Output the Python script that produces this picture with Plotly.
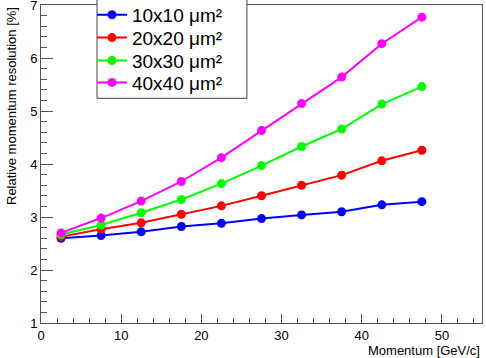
import plotly.graph_objects as go

momentum = [2.5, 7.5, 12.5, 17.5, 22.5, 27.5, 32.5, 37.5, 42.5, 47.5]
res_10 = [2.60, 2.65, 2.72, 2.82, 2.88, 2.97, 3.04, 3.10, 3.23, 3.29]
res_20 = [2.63, 2.77, 2.89, 3.05, 3.21, 3.40, 3.60, 3.79, 4.06, 4.26]
res_30 = [2.67, 2.85, 3.08, 3.33, 3.63, 3.97, 4.33, 4.66, 5.13, 5.46]
res_40 = [2.70, 2.98, 3.30, 3.67, 4.12, 4.63, 5.14, 5.64, 6.27, 6.77]
labels = ["10x10 μm²", "20x20 μm²", "30x30 μm²", "40x40 μm²"]
colors = ["#0000ff", "#ff0000", "#00ff00", "#ff00ff"]
series = [res_10, res_20, res_30, res_40]

FONT = "Liberation Sans, Arial, Helvetica, sans-serif"

# legend entry vertical positions (paper coords) – one legend per entry
legend_ids = ["legend", "legend2", "legend3", "legend4"]
legend_y = [0.969, 0.897, 0.825, 0.756]

fig = go.Figure()
for name, col, ys, lid in zip(labels, colors, series, legend_ids):
    fig.add_trace(go.Scatter(
        x=momentum, y=ys, name=name, mode="lines+markers",
        line=dict(color=col, width=2),
        marker=dict(color=col, size=9, symbol="circle"),
        legend=lid,
    ))

legend_common = dict(
    x=0.1156, xanchor="left", yanchor="middle",
    bgcolor="rgba(0,0,0,0)", borderwidth=0,
    font=dict(family=FONT, size=19, color="black"),
    itemwidth=30,
)
legend_layout = {lid: dict(legend_common, y=ly) for lid, ly in zip(legend_ids, legend_y)}

fig.update_layout(
    width=486, height=358,
    margin=dict(l=41, r=4, t=5, b=35, autoexpand=False),
    paper_bgcolor="white", plot_bgcolor="white",
    font=dict(family=FONT, size=13, color="black"),
    showlegend=True,
    **legend_layout,
    shapes=[
        dict(type="rect", xref="paper", yref="paper",
             x0=0.127, x1=0.467, y0=0.7066, y1=1.019,
             line=dict(color="#444", width=1), fillcolor="white", layer="above"),
    ],
    xaxis=dict(
        range=[0, 55], showgrid=False, zeroline=False,
        showline=True, linecolor="#555", linewidth=1, mirror=True,
        ticks="inside", ticklen=9, tickcolor="#555", tickwidth=1,
        tick0=0, dtick=10, ticklabeloverflow="allow",
        minor=dict(ticks="inside", ticklen=5, dtick=2, tickcolor="#555", showgrid=False),
        tickfont=dict(family=FONT, size=13),
    ),
    yaxis=dict(
        range=[1, 7], showgrid=False, zeroline=False,
        showline=True, linecolor="#555", linewidth=1, mirror=True,
        ticks="inside", ticklen=12, tickcolor="#555", tickwidth=1,
        tick0=1, dtick=1, ticklabeloverflow="allow",
        minor=dict(ticks="inside", ticklen=6, dtick=0.2, tickcolor="#555", showgrid=False),
        tickfont=dict(family=FONT, size=13),
    ),
    annotations=[
        dict(text="Relative momentum resolution [%]", xref="paper", yref="paper",
             x=-0.068, y=1.0, xanchor="center", yanchor="top", textangle=-90,
             showarrow=False, font=dict(family=FONT, size=13)),
        dict(text="Momentum [GeV/c]", xref="paper", yref="paper",
             x=1.0, y=-0.085, xanchor="right", yanchor="middle",
             showarrow=False, font=dict(family=FONT, size=13)),
    ],
)

fig.write_html("out.html")
